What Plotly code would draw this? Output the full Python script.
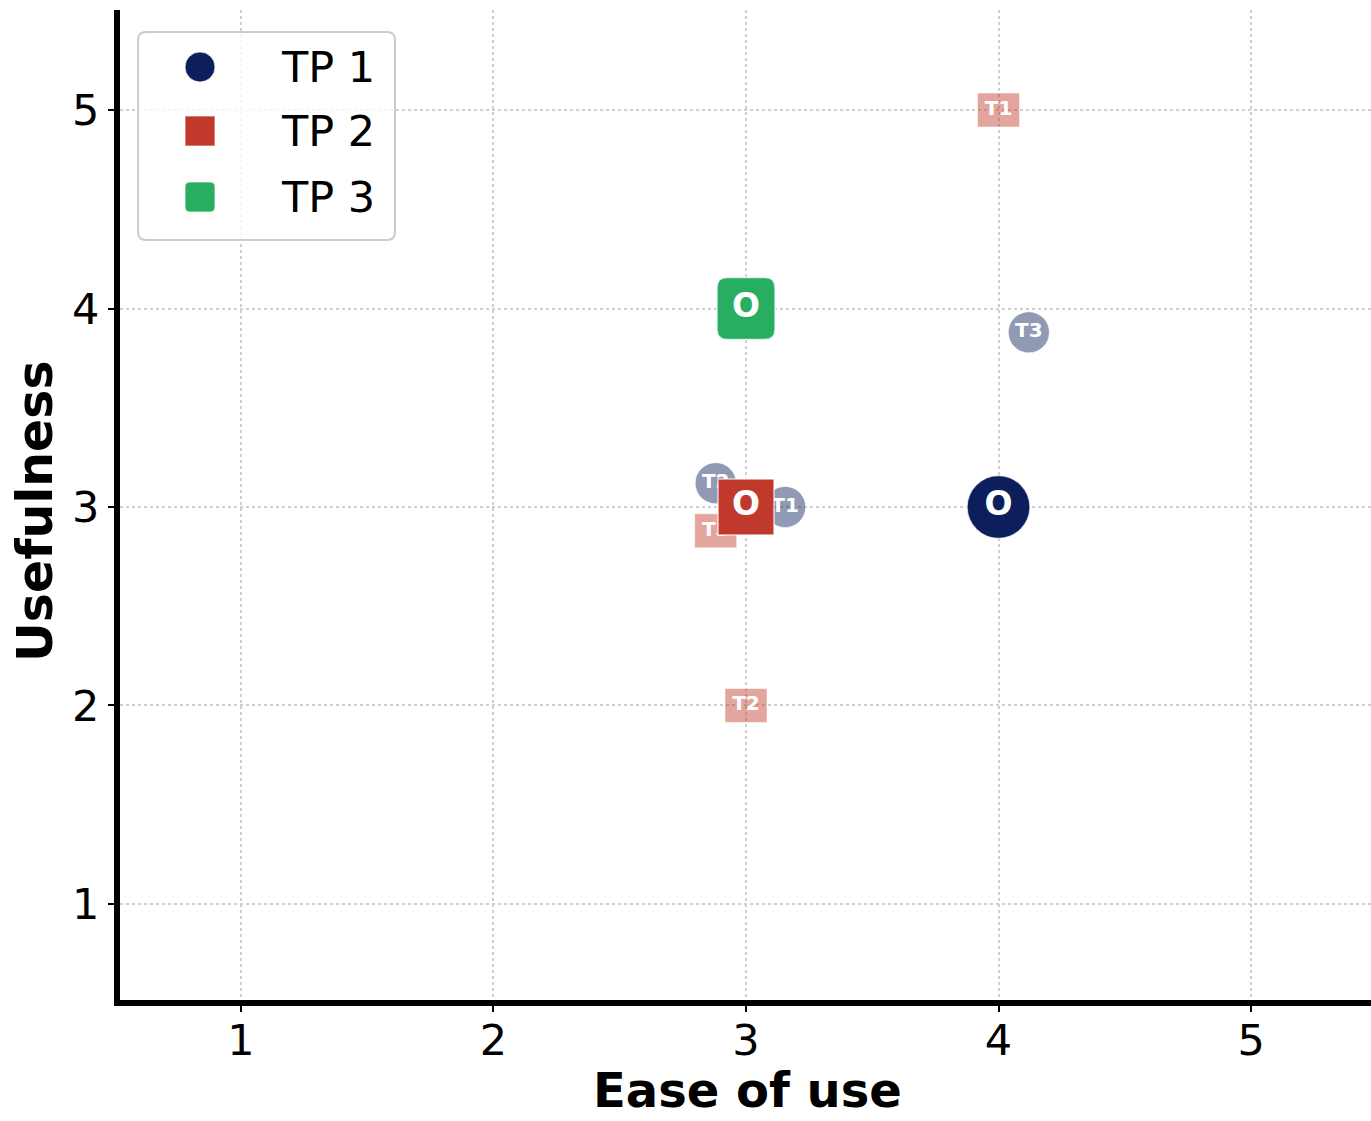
import plotly.graph_objects as go

# ---- data ----
tp1_labels = ["O", "T1", "T2", "T3"]
tp1_x = [4.0, 3.155, 2.88, 4.12]
tp1_y = [3.0, 3.0, 3.12, 3.88]

tp2_labels = ["O", "T1", "T2", "T3"]
tp2_x = [3.0, 4.0, 3.0, 2.88]
tp2_y = [3.0, 5.0, 2.0, 2.88]

tp3_labels = ["O"]
tp3_x = [3.0]
tp3_y = [4.0]

series_names = ["TP 1", "TP 2", "TP 3"]
tick_vals = [1, 2, 3, 4, 5]

NAVY = "#0c1f5c"
RED = "#c0392b"
GREEN = "#27ae60"
NAVY_T = "rgba(12,31,92,0.45)"
RED_T = "rgba(192,57,43,0.45)"
FONT = "DejaVu Sans"

W, H = 1371, 1121
L, R, T, B = 120, 0, 10, 121
PW, PH = W - L - R, H - T - B


def pxx(x):
    return (x - L) / PW


def pxy(y):
    return (T + PH - y) / PH


def rounded_path(hw, hh, r):
    return (f"M {-hw + r},{-hh} L {hw - r},{-hh} Q {hw},{-hh} {hw},{-hh + r} "
            f"L {hw},{hh - r} Q {hw},{hh} {hw - r},{hh} L {-hw + r},{hh} "
            f"Q {-hw},{hh} {-hw},{hh - r} L {-hw},{-hh + r} Q {-hw},{-hh} {-hw + r},{-hh} Z")


fig = go.Figure()

# T markers of TP1 (faded circles)
fig.add_trace(go.Scatter(
    x=tp1_x[1:], y=tp1_y[1:], text=tp1_labels[1:], mode="markers+text",
    marker=dict(symbol="circle", size=41, color=NAVY_T,
                line=dict(color="rgba(255,255,255,0.5)", width=1)),
    textposition="middle center",
    textfont=dict(family=FONT, size=20, color="white", weight="bold"),
    showlegend=False, hoverinfo="skip"))

# T labels of TP2 (faded rectangles drawn as shapes)
fig.add_trace(go.Scatter(
    x=tp2_x[1:], y=tp2_y[1:], text=tp2_labels[1:], mode="text",
    textposition="middle center",
    textfont=dict(family=FONT, size=20, color="white", weight="bold"),
    showlegend=False, hoverinfo="skip"))
for xv, yv in zip(tp2_x[1:], tp2_y[1:]):
    fig.add_shape(type="rect", xref="x", yref="y", xsizemode="pixel", ysizemode="pixel",
                  xanchor=xv, yanchor=yv, x0=-21, x1=21, y0=-17, y1=17,
                  fillcolor=RED_T, line=dict(color="rgba(255,255,255,0.5)", width=1),
                  layer="between")

# O markers
fig.add_trace(go.Scatter(
    x=tp1_x[:1], y=tp1_y[:1], text=tp1_labels[:1], mode="markers+text",
    marker=dict(symbol="circle", size=63, color=NAVY,
                line=dict(color="rgba(255,255,255,0.7)", width=1.5)),
    textposition="middle center",
    textfont=dict(family=FONT, size=33, color="white", weight="bold"),
    showlegend=False, hoverinfo="skip"))
fig.add_trace(go.Scatter(
    x=tp2_x[:1], y=tp2_y[:1], text=tp2_labels[:1], mode="markers+text",
    marker=dict(symbol="square", size=56, color=RED,
                line=dict(color="rgba(255,255,255,0.7)", width=1.5)),
    textposition="middle center",
    textfont=dict(family=FONT, size=33, color="white", weight="bold"),
    showlegend=False, hoverinfo="skip"))
for xv, yv in zip(tp3_x, tp3_y):
    fig.add_shape(type="path", xref="x", yref="y", xsizemode="pixel", ysizemode="pixel",
                  xanchor=xv, yanchor=yv, path=rounded_path(29, 31, 10),
                  fillcolor=GREEN, line=dict(color="rgba(255,255,255,0.7)", width=1.5),
                  layer="between")
fig.add_trace(go.Scatter(
    x=tp3_x, y=tp3_y, text=tp3_labels, mode="text",
    textposition="middle center",
    textfont=dict(family=FONT, size=33, color="white", weight="bold"),
    showlegend=False, hoverinfo="skip"))

# ---- custom legend ----
bx0, bx1, by0, by1, br = 138, 395, 32, 240, 8
fig.add_shape(type="path", xref="paper", yref="paper",
              path=(f"M {pxx(bx0 + br)},{pxy(by0)} L {pxx(bx1 - br)},{pxy(by0)} "
                    f"Q {pxx(bx1)},{pxy(by0)} {pxx(bx1)},{pxy(by0 + br)} "
                    f"L {pxx(bx1)},{pxy(by1 - br)} Q {pxx(bx1)},{pxy(by1)} {pxx(bx1 - br)},{pxy(by1)} "
                    f"L {pxx(bx0 + br)},{pxy(by1)} Q {pxx(bx0)},{pxy(by1)} {pxx(bx0)},{pxy(by1 - br)} "
                    f"L {pxx(bx0)},{pxy(by0 + br)} Q {pxx(bx0)},{pxy(by0)} {pxx(bx0 + br)},{pxy(by0)} Z"),
              fillcolor="rgba(255,255,255,0.8)", line=dict(color="#cccccc", width=2),
              layer="above")
row_y = [67, 131, 197]
mx = 200
fig.add_shape(type="circle", xref="paper", yref="paper", xsizemode="pixel", ysizemode="pixel",
              xanchor=pxx(mx), yanchor=pxy(row_y[0]), x0=-15, x1=15, y0=-15, y1=15,
              fillcolor=NAVY, line=dict(color="rgba(255,255,255,0.7)", width=1), layer="above")
fig.add_shape(type="rect", xref="paper", yref="paper", xsizemode="pixel", ysizemode="pixel",
              xanchor=pxx(mx), yanchor=pxy(row_y[1]), x0=-15, x1=15, y0=-15, y1=15,
              fillcolor=RED, line=dict(color="rgba(255,255,255,0.7)", width=1), layer="above")
fig.add_shape(type="path", xref="paper", yref="paper", xsizemode="pixel", ysizemode="pixel",
              xanchor=pxx(mx), yanchor=pxy(row_y[2]), path=rounded_path(15, 15, 5),
              fillcolor=GREEN, line=dict(color="rgba(255,255,255,0.7)", width=1), layer="above")
for name, ry in zip(series_names, row_y):
    fig.add_annotation(xref="paper", yref="paper", x=pxx(279), y=pxy(ry),
                       xanchor="left", yanchor="middle", text=name, showarrow=False,
                       font=dict(family=FONT, size=43, color="black"))

# axis titles
fig.add_annotation(xref="paper", yref="paper", x=pxx(747), y=pxy(1090),
                   xanchor="center", yanchor="middle", text="<b>Ease of use</b>",
                   showarrow=False, font=dict(family=FONT, size=48, color="black"))
fig.add_annotation(xref="paper", yref="paper", x=pxx(35), y=pxy(511),
                   xanchor="center", yanchor="middle", text="<b>Usefulness</b>", textangle=-90,
                   showarrow=False, font=dict(family=FONT, size=49, color="black"))

axis_common = dict(
    tickvals=tick_vals, ticktext=[str(v) for v in tick_vals],
    showgrid=True, gridcolor="#cfcfcf", gridwidth=1.5, griddash="dot",
    showline=True, linecolor="black", linewidth=6, mirror=False,
    ticks="outside", ticklen=6, tickwidth=2, tickcolor="black",
    tickfont=dict(family=FONT, size=43, color="black"),
    zeroline=False, fixedrange=True,
)
fig.update_xaxes(range=[0.521, 5.475], ticklabelstandoff=-9, **axis_common)
fig.update_yaxes(range=[0.516, 5.504], **axis_common)

fig.update_layout(
    width=W, height=H,
    margin=dict(l=L, r=R, t=T, b=B, pad=0),
    paper_bgcolor="white", plot_bgcolor="white",
    showlegend=False,
    font=dict(family=FONT),
)

fig.write_html("out.html", config={"displayModeBar": False},
               post_script="document.body.style.margin='0px';document.body.style.overflow='hidden';")
